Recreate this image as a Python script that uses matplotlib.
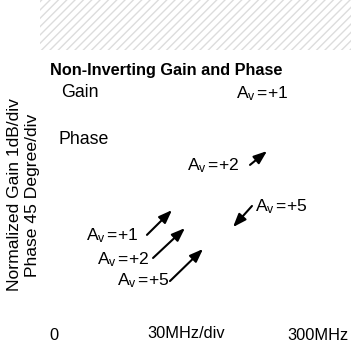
import matplotlib
matplotlib.use("Agg")
import matplotlib.pyplot as plt
from matplotlib.patches import Rectangle

plt.rcParams['font.family'] = ['Liberation Sans', 'DejaVu Sans']
plt.rcParams['mathtext.fontset'] = 'custom'
plt.rcParams['mathtext.rm'] = 'Liberation Sans'
plt.rcParams['mathtext.it'] = 'Liberation Sans'

# data (x in MHz, y in divisions)
x_ticks = [0, 300]
x_tick_labels = ["0", "300MHz"]
x_range = (0, 300)
y_range = (0, 10)

curve_labels = ["Gain", "Phase"]
curve_label_pos = [(9.0, 9.26), (5.6, 7.33)]

gain_names = ["+1", "+2", "+5", "+1", "+2", "+5"]
gain_text_pos = [(207, 9.22), (151.5, 6.26), (228, 4.57),
                 (37.0, 3.37), (49.5, 2.39), (71.5, 1.52)]
# arrows: (tail, head); first label has none
arrow_tail = [None, (222.9, 6.30), (225.1, 4.61), (106.0, 3.42), (112.9, 2.47), (132.1, 1.52)]
arrow_head = [None, (242.2, 6.87), (203.6, 3.74), (134.4, 4.44), (149.1, 3.70), (169.6, 2.84)]

W, H = 351, 353
fig = plt.figure(figsize=(W / 100, H / 100), dpi=100)
ax = fig.add_axes([53.5 / W, 1 - 318 / H, 264.5 / W, 243 / H])
ax.set_xlim(*x_range)
ax.set_ylim(*y_range)
for s in ax.spines.values():
    s.set_visible(False)
ax.set_yticks([])
ax.set_xticks(x_ticks)
ax.set_xticklabels(x_tick_labels, fontsize=11.8)
ax.tick_params(axis='x', length=0, pad=7)
ax.text(150, -0.62, "30MHz/div", fontsize=11.8, ha='center', va='center')

fig.text(15 / W, 1 - 195 / H, "Normalized Gain 1dB/div", fontsize=12.6,
         rotation=90, ha='center', va='center')
fig.text(33 / W, 1 - 195 / H, "Phase 45 Degree/div", fontsize=12.6,
         rotation=90, ha='center', va='center')

# faint scan texture at top
fig.patches.append(Rectangle((40 / W, 1 - 50 / H), 311 / W, 50 / H,
                             transform=fig.transFigure, facecolor='none',
                             edgecolor='#dcdcdc', hatch='////', linewidth=0))

ax.text(-3.5, 10.2, "Non-Inverting Gain and Phase", fontsize=11.7,
        fontweight='bold', ha='left', va='center')

for lab, (x, y) in zip(curve_labels, curve_label_pos):
    ax.text(x, y, lab, fontsize=12.8, ha='left', va='center')

for name, (x, y), t, h in zip(gain_names, gain_text_pos, arrow_tail, arrow_head):
    ax.text(x, y, "A$_\\mathrm{v}\\,$=" + name, fontsize=12.6, ha='left', va='center')
    if t is not None:
        ax.annotate("", xy=h, xytext=t,
                    arrowprops=dict(arrowstyle='-|>,head_length=0.8,head_width=0.3',
                                    color='black', lw=1.5, shrinkA=0, shrinkB=0))

fig.savefig("out.png", dpi=100)
